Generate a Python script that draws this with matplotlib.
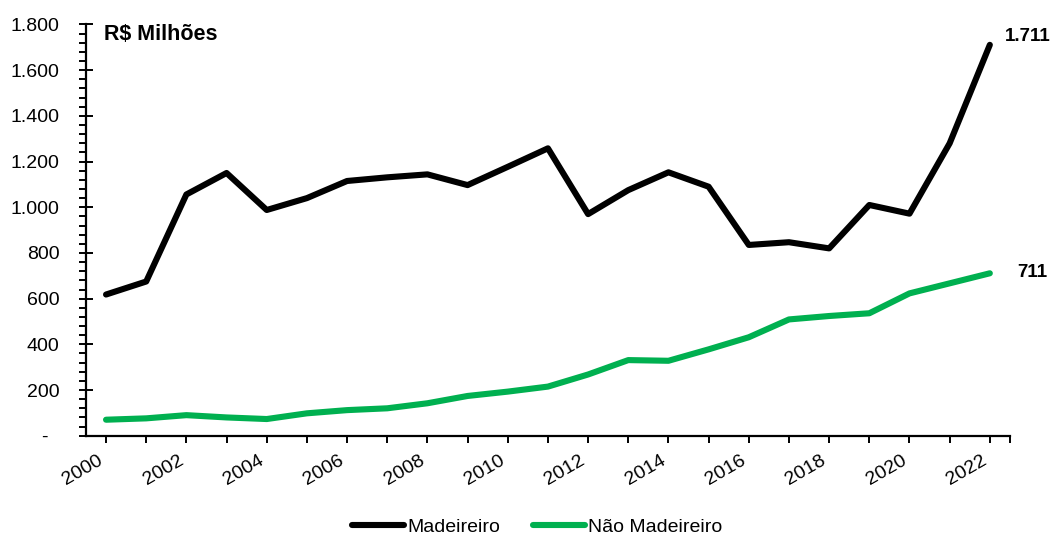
import matplotlib
matplotlib.use("Agg")
import matplotlib.pyplot as plt
from matplotlib.ticker import FuncFormatter, MultipleLocator, FixedLocator

plt.rcParams['font.family'] = ['Liberation Sans', 'DejaVu Sans']

years = list(range(2000, 2023))
madeireiro = [618, 675, 1056, 1150, 988, 1040, 1115, 1131, 1144, 1097, 1177, 1258,
              970, 1075, 1153, 1090, 835, 847, 820, 1010, 972, 1280, 1711]
nao_madeireiro = [70, 76, 90, 80, 73, 98, 112, 120, 142, 174, 193, 215,
                  268, 331, 328, 378, 431, 509, 524, 536, 623, 667, 711]
series_names = ["Madeireiro", "Não Madeireiro"]
series_colors = ["#000000", "#00B050"]
unit_label = "R$ Milhões"
year_labels = [str(y) if y % 2 == 0 else "" for y in years]

fig = plt.figure(figsize=(10.52, 5.36), dpi=100)
ax = fig.add_axes([0.0817, 0.1871, 0.8783, 0.7672])

x = list(range(len(years)))
for vals, name, col in zip([madeireiro, nao_madeireiro], series_names, series_colors):
    ax.plot(x, vals, color=col, lw=4.4, label=name,
            solid_joinstyle='round', solid_capstyle='round')

ax.set_xlim(-0.5, len(years) - 0.5)
ax.set_ylim(0, 1800)

for s in ['top', 'right']:
    ax.spines[s].set_visible(False)
for s in ['left', 'bottom']:
    ax.spines[s].set_linewidth(1.6)

# y axis: major every 200, minor every 40
ax.yaxis.set_major_locator(MultipleLocator(200))
ax.yaxis.set_minor_locator(MultipleLocator(40))

def fmt_y(v, pos):
    if v == 0:
        return "-  "
    return f"{int(v):,}".replace(",", ".")

ax.yaxis.set_major_formatter(FuncFormatter(fmt_y))
ax.tick_params(axis='y', which='major', direction='inout', length=10, width=1.4,
               labelsize=14, pad=14)
ax.tick_params(axis='y', which='minor', direction='out', length=5, width=1.4)

# x axis: a tick at each year plus one at the right end
ax.xaxis.set_major_locator(FixedLocator(x))
ax.set_xticklabels(year_labels, rotation=30, ha='right', va='top')
ax.xaxis.set_minor_locator(FixedLocator([len(years) - 0.5]))
ax.tick_params(axis='x', which='both', direction='out', length=5, width=1.4,
               labelsize=14, pad=7)

ax.text(0.02, 1.0, unit_label, transform=ax.transAxes, fontsize=15.5,
        fontweight='bold', va='top', ha='left')

# end-of-series value labels
ax.annotate(f"{madeireiro[-1]:,}".replace(",", "."), (x[-1], madeireiro[-1]),
            xytext=(10.5, 6), textcoords='offset points', fontsize=13.5,
            fontweight='bold', va='center', ha='left', annotation_clip=False)
ax.annotate(f"{nao_madeireiro[-1]:,}".replace(",", "."), (x[-1], nao_madeireiro[-1]),
            xytext=(20, 0.5), textcoords='offset points', fontsize=13.5,
            fontweight='bold', va='center', ha='left', annotation_clip=False)

leg = fig.legend(loc='center', bbox_to_anchor=(0.5105, 0.017), ncol=2, frameon=False,
                 fontsize=14, handlelength=2.7, handletextpad=0.15, columnspacing=1.7,
                 borderaxespad=0)

fig.savefig("out.png", dpi=100)
